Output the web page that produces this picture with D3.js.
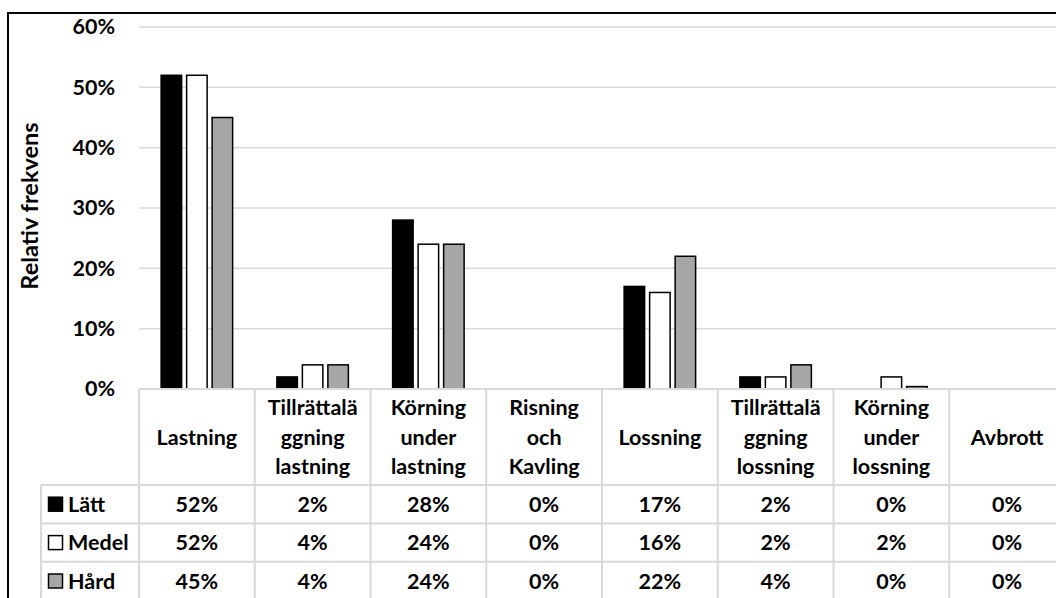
<!DOCTYPE html>
<html>
<head>
<meta charset="utf-8">
<script src="https://cdn.jsdelivr.net/npm/d3@7"></script>
<style>
  body { margin: 0; background: #fff; }
  svg text { font-family: Lato, "Open Sans", sans-serif; font-weight: bold; fill: #000; }
</style>
</head>
<body>
<svg id="chart" width="1056" height="598"></svg>
<script>
// Activity categories (x axis) and their wrapped labels in the data table header
const categories = ["Lastning", "Tillrättaläggning lastning", "Körning under lastning", "Risning och Kavling",
                    "Lossning", "Tillrättaläggning lossning", "Körning under lossning", "Avbrott"];
const categoryLabels = [["Lastning"], ["Tillrättalä", "ggning", "lastning"], ["Körning", "under", "lastning"],
                        ["Risning", "och", "Kavling"], ["Lossning"], ["Tillrättalä", "ggning", "lossning"],
                        ["Körning", "under", "lossning"], ["Avbrott"]];

// Relative frequency per difficulty class
const seriesNames = ["Lätt", "Medel", "Hård"];
const latt  = [0.52, 0.02, 0.28, 0, 0.17, 0.02, 0,    0];
const medel = [0.52, 0.04, 0.24, 0, 0.16, 0.02, 0.02, 0];
const hard  = [0.45, 0.04, 0.24, 0, 0.22, 0.04, 0.004, 0];
const seriesFill = ["#000000", "#ffffff", "#a6a6a6"];

const yTicks = [0, 0.1, 0.2, 0.3, 0.4, 0.5, 0.6];
const yTitle = "Relativ frekvens";

const seriesValues = [latt, medel, hard];
const fmt = d3.format(".0%");
const fontSize = 21.5;
const titleSize = 23.5;

const svg = d3.select("#chart");

// Plot geometry
const plotLeft = 139, colWidth = 115.75;
const plotRight = plotLeft + colWidth * categories.length;
const yBase = 389, yTop = 27;

const x0 = d3.scaleBand().domain(categories).range([plotLeft, plotRight]).paddingInner(0).paddingOuter(0);
const groupW = 71.5;
const x1 = d3.scaleBand().domain(seriesNames)
  .range([(x0.bandwidth() - groupW) / 2, (x0.bandwidth() + groupW) / 2])
  .paddingInner(0.196).paddingOuter(0);
const y = d3.scaleLinear().domain([0, 0.6]).range([yBase, yTop]);

const gridColor = "#d9d9d9";

// Horizontal gridlines
svg.append("g").selectAll("line")
  .data(yTicks.filter(d => d > 0))
  .join("line")
  .attr("x1", plotLeft).attr("x2", plotRight)
  .attr("y1", d => y(d)).attr("y2", d => y(d))
  .attr("stroke", gridColor).attr("stroke-width", 1.5);

// Y axis labels
const yAxis = svg.append("g")
  .attr("transform", `translate(${plotLeft},0)`)
  .call(d3.axisLeft(y).tickValues(yTicks).tickFormat(fmt).tickSize(0).tickPadding(24));
yAxis.select(".domain").remove();
yAxis.selectAll("text")
  .attr("font-size", fontSize)
  .style("font-family", "Lato, 'Open Sans', sans-serif")
  .style("font-weight", "bold")
  .attr("fill", "#000");

// Y axis title
svg.append("text")
  .attr("transform", `translate(38,${(yTop + yBase) / 2 - 2}) rotate(-90)`)
  .attr("text-anchor", "middle")
  .attr("font-size", titleSize)
  .text(yTitle);

// Bars
const barData = [];
categories.forEach((c, ci) => {
  seriesNames.forEach((s, si) => {
    barData.push({ cat: c, series: s, si, value: seriesValues[si][ci] });
  });
});
svg.append("g").selectAll("rect")
  .data(barData.filter(d => d.value > 0))
  .join("rect")
  .attr("x", d => x0(d.cat) + x1(d.series))
  .attr("width", x1.bandwidth())
  .attr("y", d => y(d.value))
  .attr("height", d => yBase - y(d.value))
  .attr("fill", d => seriesFill[d.si])
  .attr("stroke", "#000")
  .attr("stroke-width", 1.5);

// Data table
const headerBottom = 485, rowH = 38.4;
const tableLeft = 41;
const table = svg.append("g");
const hLines = [
  { x1: plotLeft, y: yBase },
  { x1: tableLeft, y: headerBottom },
  { x1: tableLeft, y: headerBottom + rowH },
  { x1: tableLeft, y: headerBottom + 2 * rowH },
  { x1: tableLeft, y: headerBottom + 3 * rowH }
];
table.selectAll("line.h")
  .data(hLines)
  .join("line")
  .attr("class", "h")
  .attr("x1", d => d.x1).attr("x2", plotRight)
  .attr("y1", d => d.y).attr("y2", d => d.y)
  .attr("stroke", gridColor).attr("stroke-width", 2);

const vLines = categories.map(c => ({ x: x0(c), y1: yBase }))
  .concat([{ x: plotRight, y1: yBase }, { x: tableLeft, y1: headerBottom }]);
table.selectAll("line.v")
  .data(vLines)
  .join("line")
  .attr("class", "v")
  .attr("x1", d => d.x).attr("x2", d => d.x)
  .attr("y1", d => d.y1).attr("y2", 620)
  .attr("stroke", gridColor).attr("stroke-width", 2);

// Header (category names)
const lineGap = 29.5;
const headerMid = (yBase + headerBottom) / 2;
categories.forEach((c, ci) => {
  const lines = categoryLabels[ci];
  const t = table.append("text")
    .attr("text-anchor", "middle")
    .attr("font-size", fontSize);
  lines.forEach((ln, li) => {
    t.append("tspan")
      .attr("x", x0(c) + x0.bandwidth() / 2)
      .attr("y", headerMid + (li - (lines.length - 1) / 2) * lineGap)
      .attr("dy", "0.36em")
      .text(ln);
  });
});

// Value rows with legend keys
seriesNames.forEach((s, si) => {
  const cy = headerBottom + rowH * (si + 0.5);
  table.append("rect")
    .attr("x", 48.5).attr("y", cy - 7)
    .attr("width", 14).attr("height", 14)
    .attr("fill", seriesFill[si])
    .attr("stroke", "#000").attr("stroke-width", 1.5);
  table.append("text")
    .attr("x", 68).attr("y", cy).attr("dy", "0.36em")
    .attr("font-size", fontSize)
    .text(s);
  categories.forEach((c, ci) => {
    table.append("text")
      .attr("x", x0(c) + x0.bandwidth() / 2)
      .attr("y", cy).attr("dy", "0.36em")
      .attr("text-anchor", "middle")
      .attr("font-size", fontSize)
      .text(fmt(seriesValues[si][ci]));
  });
});

// Chart border
svg.append("rect")
  .attr("x", 8).attr("y", 13)
  .attr("width", 1200).attr("height", 700)
  .attr("fill", "none")
  .attr("stroke", "#000").attr("stroke-width", 2);
</script>
</body>
</html>
